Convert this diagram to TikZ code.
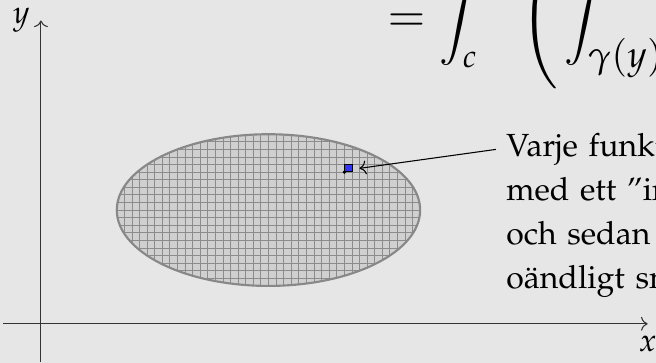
\documentclass[tikz,border=0pt]{standalone}
\usepackage[T1]{fontenc}
\usepackage{mathpazo}
\usepackage{amsmath}
\usetikzlibrary{arrows.meta,positioning}
\definecolor{bakgr}{RGB}{230,230,230}
\definecolor{omrfyll}{RGB}{208,208,208}
\definecolor{omrkant}{RGB}{136,136,136}
\definecolor{rutnat}{RGB}{140,140,140}
\definecolor{elemfarg}{RGB}{51,51,255}
\tikzset{
  axel/.style={->, thin, black!80},
  omr/.style={draw=omrkant, line width=0.8pt, fill=omrfyll},
  ruta/.style={draw=rutnat, line width=0.3pt},
  elem/.style={draw=black, line width=0.3pt, fill=elemfarg, inner sep=0pt, minimum size=1mm},
  pil/.style={->, thin, black},
  txt/.style={inner sep=4pt, text width=5cm},
}

\begin{document}
\begin{tikzpicture}[font=\fontsize{12}{12}\selectfont]
  \useasboundingbox (-0.54,-0.515) rectangle (8.11,4.27);
  \clip (-0.54,-0.515) rectangle (8.11,4.27);
  \fill[bakgr] (-0.54,-0.515) rectangle (8.11,4.27);
  % omraadet D med rutnaet
  \fill[omrfyll] (3,1.5) ellipse (2 and 1);
  \begin{scope}
    \clip (3,1.5) ellipse (2 and 1);
    \draw[ruta] (0.9,0.4) grid[step=0.1] (5.1,2.6);
  \end{scope}
  \draw[omrkant, line width=0.8pt] (3,1.5) ellipse (2 and 1);
  % axlar
  \coordinate (xstart) at (-0.5,0);
  \coordinate (xslut) at (8,0);
  \coordinate (ystart) at (0,-0.5);
  \coordinate (yslut) at (0,4);
  \draw[axel] (xstart) -- (xslut);
  \draw[axel] (ystart) -- (yslut);
  \node[below, yshift=-1pt] (xlab) at (xslut) {$x$};
  \node[anchor=east, inner sep=4pt] (ylab) at (yslut) {$y$};
  % areaelementet
  \node[elem, anchor=south west] (dA) at (4,2) {};
  \fill (dA.south west) circle (0.025);
  \coordinate (pilspets) at (4.2,2.05);
  \coordinate (pilstart) at (6,2.3);
  \draw[pil] (pilstart) -- (pilspets);
  \node[txt, anchor=north west] (forklaring) at (5.99,2.66)
    {\fontsize{12}{16.5}\selectfont\raggedright
     Varje funktionsv\"arde\newline
     med ett ''infinitesimalt''\newline
     och sedan\newline
     o\"andligt sm\aa\par};
  % formeln
  \node[anchor=base west, inner sep=0pt, font=\fontsize{17.28}{20}\selectfont] (formel) at (4.56,3.86)
    {$\displaystyle = \int_c \hspace{16pt} \Biggl( \hspace{2pt} \int_{\text{\fontsize{14}{14}\selectfont$\gamma(y)$}} f(x,y)\,dx \Biggr) dy$};
\end{tikzpicture}
\end{document}
